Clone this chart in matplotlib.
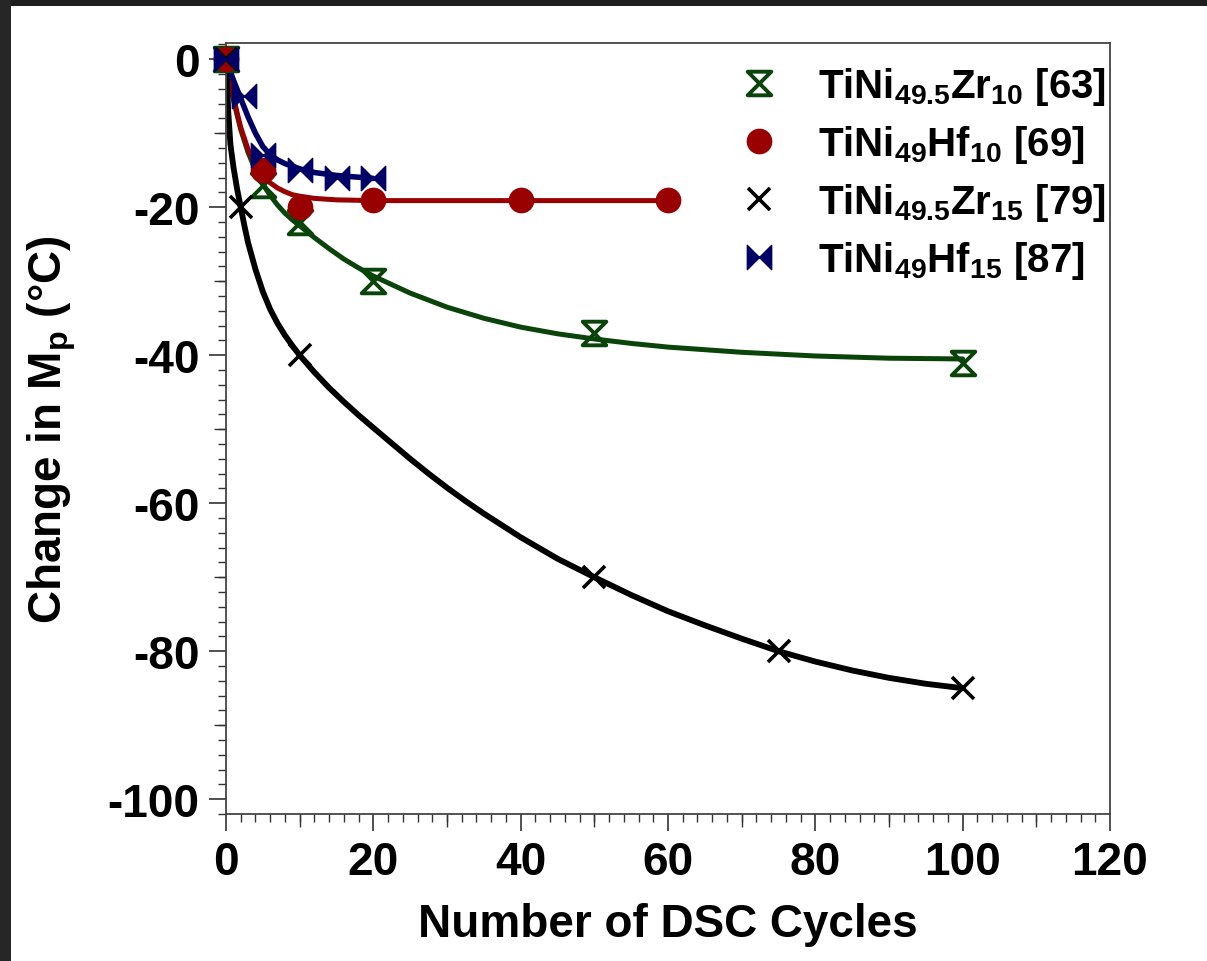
import matplotlib
matplotlib.use("Agg")
import matplotlib.pyplot as plt
from matplotlib.path import Path
from matplotlib.patches import Rectangle
from matplotlib.ticker import MultipleLocator

# measured points
cycles_zr10 = [0, 5, 10, 20, 50, 100]
mp_zr10 = [0, -17, -22, -30, -37, -41]
cycles_hf10 = [0, 5, 10, 20, 40, 60]
mp_hf10 = [0, -15, -20, -19, -19, -19]
cycles_zr15 = [0, 2, 10, 50, 75, 100]
mp_zr15 = [0, -20, -40, -70, -80, -85]
cycles_hf15 = [0, 2.5, 5, 10, 15, 20]
mp_hf15 = [0, -5, -13, -15, -16, -16]

# fitted curves
fit_x_zr10 = [0, 0.5, 1, 2, 3, 4, 5, 6, 7, 8, 9, 10, 12, 14, 16, 18, 20, 25, 30, 35, 40,
              45, 50, 55, 60, 70, 80, 90, 100]
fit_zr10 = [0, -3, -5.5, -9.5, -12.6, -15, -16.9, -18.4, -19.7, -20.8, -21.7, -22.5, -24.1,
            -25.6, -27, -28.2, -29.3, -31.6, -33.5, -35.0, -36.2, -37.1, -37.8, -38.4,
            -38.9, -39.6, -40.1, -40.4, -40.5]
fit_x_hf10 = [0, 0.5, 1, 1.5, 2, 3, 4, 5, 6, 7, 8, 9, 10, 12, 15, 20, 30, 60]
fit_hf10 = [0, -2.6, -5, -7.2, -9.2, -12.2, -14.3, -15.7, -16.7, -17.4, -17.9, -18.3, -18.5,
            -18.8, -19.0, -19.1, -19.1, -19.1]
fit_x_zr15 = [0, 0.3, 0.6, 1, 1.5, 2, 2.5, 3, 4, 5, 6, 7, 8, 9, 10, 12, 14, 16, 18, 20,
              22.5, 25, 27.5, 30, 32.5, 35, 37.5, 40, 45, 50, 55, 60, 65, 70, 75, 80, 85,
              90, 95, 100]
fit_zr15 = [0, -7, -11.5, -14.5, -17.5, -20, -22.5, -24.8, -28.4, -31.4, -33.8, -35.7, -37.3,
            -38.7, -40, -42.3, -44.4, -46.3, -48.1, -49.8, -51.9, -54, -56, -57.9, -59.7,
            -61.4, -63, -64.6, -67.5, -70, -72.4, -74.6, -76.5, -78.3, -80, -81.4, -82.6,
            -83.6, -84.4, -85]
fit_x_hf15 = [0, 1, 2, 3, 4, 5, 6, 7, 8, 10, 12, 15, 20]
fit_hf15 = [0, -2.8, -5.3, -7.8, -10, -11.8, -12.9, -13.6, -14.1, -14.8, -15.3, -15.7, -16.1]

labels = [r"TiNi$_{49.5}$Zr$_{10}$ [63]", r"TiNi$_{49}$Hf$_{10}$ [69]",
          r"TiNi$_{49.5}$Zr$_{15}$ [79]", r"TiNi$_{49}$Hf$_{15}$ [87]"]

plt.rcParams['font.family'] = ['Liberation Sans', 'DejaVu Sans']
plt.rcParams['font.weight'] = 'bold'
plt.rcParams['mathtext.fontset'] = 'custom'
plt.rcParams['mathtext.rm'] = 'Liberation Sans:bold'
plt.rcParams['mathtext.it'] = 'Liberation Sans:bold'
plt.rcParams['mathtext.bf'] = 'Liberation Sans:bold'
plt.rcParams['mathtext.default'] = 'regular'
plt.rcParams['axes.unicode_minus'] = False

hourglass = Path([(-1, 1), (1, 1), (0, 0), (-1, 1), (-1, -1), (1, -1), (0, 0), (-1, -1)],
                 [Path.MOVETO, Path.LINETO, Path.LINETO, Path.CLOSEPOLY,
                  Path.MOVETO, Path.LINETO, Path.LINETO, Path.CLOSEPOLY])
bowtie = Path([(-1, 1), (0, 0), (-1, -1), (-1, 1), (1, 1), (0, 0), (1, -1), (1, 1)],
              [Path.MOVETO, Path.LINETO, Path.LINETO, Path.CLOSEPOLY,
               Path.MOVETO, Path.LINETO, Path.LINETO, Path.CLOSEPOLY])

green = '#0a440a'
red = '#990000'
navy = '#000066'

fig = plt.figure(figsize=(12.07, 9.62), dpi=100)
ax = fig.add_axes([226 / 1207, 1 - 815 / 962, 884 / 1207, 771 / 962])

# dark frame on top and left edge
fig.patches.append(Rectangle((0, 1 - 7 / 962), 1, 7 / 962, transform=fig.transFigure,
                             facecolor='#1e1e1e', edgecolor='none', zorder=-1))
fig.patches.append(Rectangle((0, 0), 11 / 1207, 1, transform=fig.transFigure,
                             facecolor='#262626', edgecolor='none', zorder=-1))

ax.plot(fit_x_zr10, fit_zr10, color=green, lw=3.6, zorder=2, solid_capstyle='round')
ax.plot(cycles_zr10, mp_zr10, ls='none', marker=hourglass, ms=17, mfc='none',
        mec=green, mew=2.8, label=labels[0], zorder=3, clip_on=False)
ax.plot(fit_x_hf10, fit_hf10, color=red, lw=3.6, zorder=2, solid_capstyle='round')
ax.plot(cycles_hf10, mp_hf10, ls='none', marker='o', ms=17.5, color=red,
        label=labels[1], zorder=3, clip_on=False)
ax.plot(fit_x_zr15, fit_zr15, color='black', lw=4.2, zorder=2, solid_capstyle='round')
ax.plot(cycles_zr15, mp_zr15, ls='none', marker='x', ms=16, mew=2.6, color='black',
        label=labels[2], zorder=3, clip_on=False)
ax.plot(fit_x_hf15, fit_hf15, color=navy, lw=4.0, zorder=2, solid_capstyle='round')
ax.plot(cycles_hf15, mp_hf15, ls='none', marker=bowtie, ms=17.5, color=navy,
        label=labels[3], zorder=3, clip_on=False)

ax.set_xlim(0, 120)
ax.set_ylim(-102.0, 2.2)
ax.xaxis.set_major_locator(MultipleLocator(20))
ax.xaxis.set_minor_locator(MultipleLocator(2))
ax.yaxis.set_major_locator(MultipleLocator(20))
ax.yaxis.set_minor_locator(MultipleLocator(2))
ax.tick_params(which='both', direction='out', top=False, right=False, color='#333333')
ax.tick_params(which='major', length=12, width=1.2, labelsize=33, pad=7)
ax.tick_params(which='minor', length=6, width=1.0)

# mid ticks every 10
for sec, lim in ((ax.secondary_xaxis('bottom'), 'x'), (ax.secondary_yaxis('left'), 'y')):
    if lim == 'x':
        sec.set_xticks(range(10, 120, 20))
        sec.spines['bottom'].set_visible(False)
    else:
        sec.set_yticks(range(-90, 0, 20))
        sec.spines['left'].set_visible(False)
    sec.tick_params(length=9, width=1.0, color='#333333', labelbottom=False, labelleft=False)

for s in ax.spines.values():
    s.set_color('#444444')
    s.set_linewidth(1.3)

ax.set_xlabel("Number of DSC Cycles", fontsize=33, fontweight='bold', labelpad=13)
ax.set_ylabel(r"Change in M$_{p}$ (°C)", fontsize=33, fontweight='bold')
ax.yaxis.set_label_coords(-0.167, 0.5)

ax.legend(loc='upper left', bbox_to_anchor=(735 / 1207, 1 - 66 / 962),
          bbox_transform=fig.transFigure, frameon=False, fontsize=29,
          handlelength=1.2, handletextpad=0.87, labelspacing=0.4,
          borderpad=0, borderaxespad=0)

fig.savefig("out.png", dpi=100)
